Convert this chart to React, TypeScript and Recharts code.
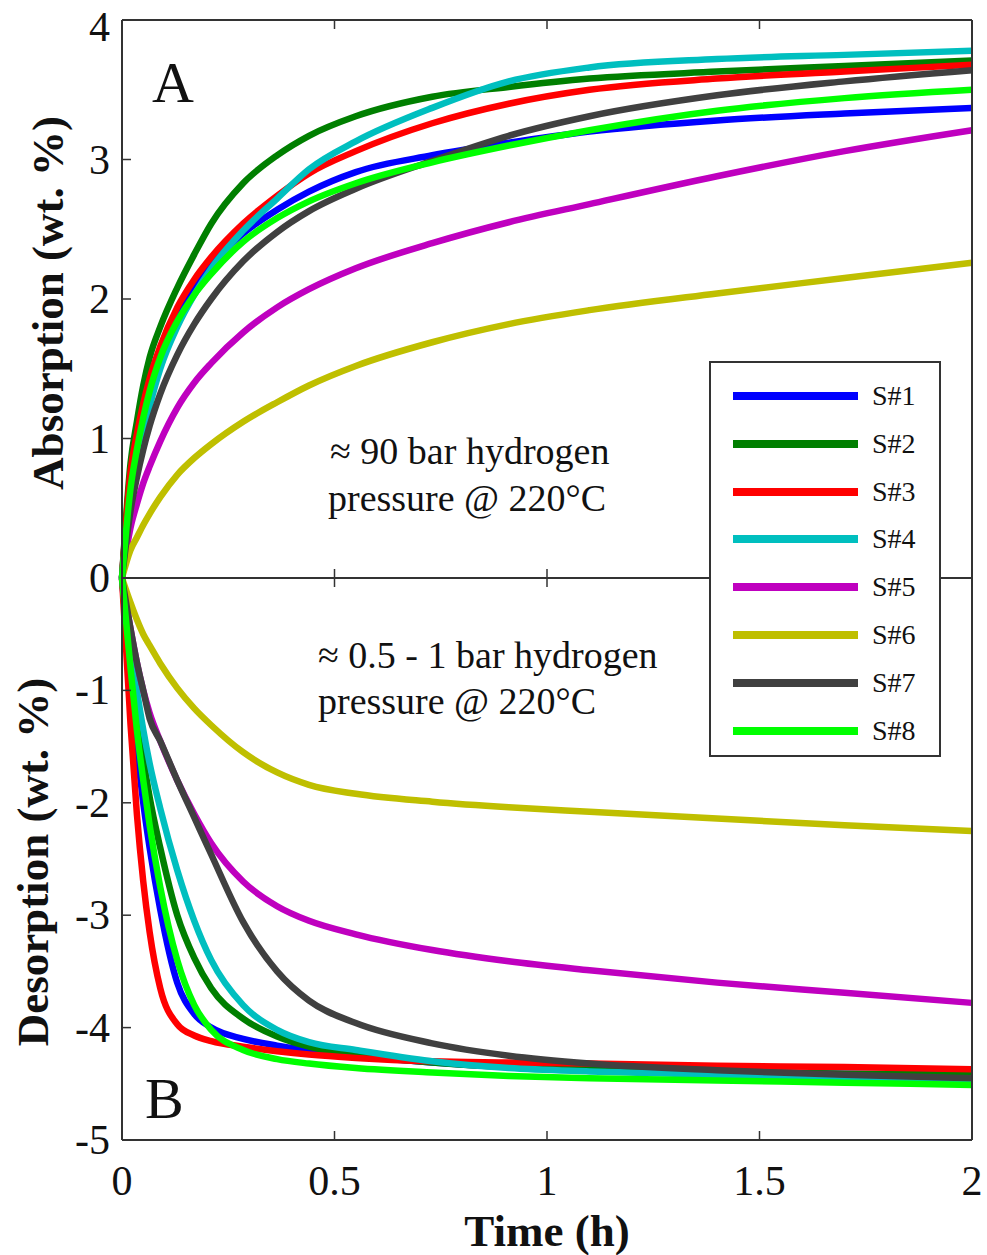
import React from 'react';
import { LineChart, Line, XAxis, YAxis, Legend } from 'recharts';

// time axis (h)
const TIME = [0, 0.02, 0.035, 0.05, 0.065, 0.09, 0.13, 0.17, 0.21, 0.285, 0.365, 0.44, 0.55, 0.73, 0.91, 1.1, 1.4, 1.7, 2.0];

// absorption, wt. % (panel A)
const ABS_S1 = [0, 0.72, 1.0, 1.22, 1.40, 1.63, 1.90, 2.10, 2.25, 2.47, 2.64, 2.77, 2.91, 3.03, 3.12, 3.20, 3.28, 3.33, 3.37];
const ABS_S2 = [0, 0.82, 1.12, 1.38, 1.58, 1.80, 2.08, 2.32, 2.54, 2.83, 3.03, 3.17, 3.31, 3.45, 3.52, 3.58, 3.63, 3.67, 3.71];
const ABS_S3 = [0, 0.76, 1.03, 1.25, 1.43, 1.66, 1.94, 2.14, 2.30, 2.54, 2.74, 2.90, 3.06, 3.26, 3.40, 3.50, 3.58, 3.63, 3.68];
const ABS_S4 = [0, 0.56, 0.82, 1.04, 1.23, 1.50, 1.80, 2.03, 2.22, 2.49, 2.72, 2.93, 3.13, 3.37, 3.56, 3.66, 3.72, 3.75, 3.78];
const ABS_S5 = [0, 0.36, 0.53, 0.68, 0.80, 0.98, 1.22, 1.40, 1.54, 1.76, 1.94, 2.07, 2.22, 2.40, 2.55, 2.68, 2.88, 3.06, 3.21];
const ABS_S6 = [0, 0.20, 0.29, 0.38, 0.46, 0.58, 0.74, 0.86, 0.96, 1.12, 1.26, 1.38, 1.52, 1.69, 1.82, 1.92, 2.04, 2.15, 2.26];
const ABS_S7 = [0, 0.48, 0.72, 0.92, 1.09, 1.32, 1.60, 1.82, 2.00, 2.27, 2.48, 2.63, 2.79, 2.99, 3.17, 3.31, 3.46, 3.56, 3.64];
const ABS_S8 = [0, 0.64, 0.92, 1.15, 1.34, 1.58, 1.84, 2.03, 2.18, 2.41, 2.58, 2.70, 2.83, 2.98, 3.10, 3.21, 3.35, 3.44, 3.50];

// desorption, wt. % (panel B)
const DES_S1 = [0, -0.9, -1.5, -2.0, -2.4, -2.95, -3.6, -3.88, -4.0, -4.1, -4.16, -4.2, -4.25, -4.31, -4.35, -4.37, -4.39, -4.41, -4.42];
const DES_S2 = [0, -0.7, -1.2, -1.6, -1.95, -2.4, -3.0, -3.38, -3.65, -3.92, -4.08, -4.17, -4.24, -4.31, -4.35, -4.37, -4.39, -4.41, -4.42];
const DES_S3 = [0, -1.3, -2.1, -2.7, -3.15, -3.65, -3.97, -4.07, -4.12, -4.17, -4.21, -4.24, -4.27, -4.30, -4.31, -4.32, -4.34, -4.35, -4.37];
const DES_S4 = [0, -0.6, -1.0, -1.35, -1.65, -2.05, -2.6, -3.05, -3.40, -3.80, -4.02, -4.13, -4.20, -4.30, -4.36, -4.39, -4.42, -4.44, -4.46];
const DES_S5 = [0, -0.45, -0.75, -1.0, -1.2, -1.45, -1.80, -2.10, -2.36, -2.70, -2.92, -3.05, -3.17, -3.31, -3.41, -3.49, -3.60, -3.69, -3.78];
const DES_S6 = [0, -0.22, -0.37, -0.50, -0.60, -0.76, -0.98, -1.16, -1.31, -1.55, -1.73, -1.84, -1.92, -1.99, -2.04, -2.08, -2.14, -2.20, -2.25];
const DES_S7 = [0, -0.45, -0.75, -1.0, -1.25, -1.45, -1.80, -2.13, -2.46, -3.06, -3.50, -3.76, -3.96, -4.14, -4.25, -4.32, -4.38, -4.42, -4.45];
const DES_S8 = [0, -0.8, -1.35, -1.8, -2.2, -2.75, -3.4, -3.8, -4.02, -4.2, -4.28, -4.32, -4.36, -4.40, -4.43, -4.45, -4.47, -4.49, -4.51];

const SERIES = ['S#1', 'S#2', 'S#3', 'S#4', 'S#5', 'S#6', 'S#7', 'S#8'];
const COLORS = ['#0000ff', '#007f00', '#ff0000', '#00bfbf', '#bf00bf', '#bfbf00', '#404040', '#00ff00'];

const X_TICKS = [0, 0.5, 1, 1.5, 2];
const ABS_TICKS = [0, 1, 2, 3, 4];
const DES_TICKS = [-5, -4, -3, -2, -1, 0];

const ABS = [ABS_S1, ABS_S2, ABS_S3, ABS_S4, ABS_S5, ABS_S6, ABS_S7, ABS_S8];
const DES = [DES_S1, DES_S2, DES_S3, DES_S4, DES_S5, DES_S6, DES_S7, DES_S8];

const toRows = (cols: number[][]) =>
  TIME.map((t, i) => {
    const row: Record<string, number> = { t };
    SERIES.forEach((s, k) => { row[s] = cols[k][i]; });
    return row;
  });

const absData = toRows(ABS);
const desData = toRows(DES);

const FONT = '"Liberation Serif", "Times New Roman", serif';
const INK = '#333333';
const TL = 9;

// inward ticks, drawn by hand so the labels can stay outside
const LeftTick = (p: any) => {
  const v = p.payload.value;
  const dy = v === 4 ? 7 : 0;
  return (
    <g>
      <line x1={p.x} y1={p.y} x2={p.x + TL} y2={p.y} stroke={INK} strokeWidth={1.5} />
      {p.hide && p.hide(v) ? null : (
        <text x={p.x - 12} y={p.y + dy} textAnchor="end" dominantBaseline="central" fontFamily={FONT} fontSize={42} fill="#111">{v}</text>
      )}
    </g>
  );
};
const RightTick = (p: any) => <line x1={p.x} y1={p.y} x2={p.x - TL} y2={p.y} stroke={INK} strokeWidth={1.5} />;
const TopTick = (p: any) => <line x1={p.x} y1={p.y} x2={p.x} y2={p.y + TL} stroke={INK} strokeWidth={1.5} />;
const BottomTick = (p: any) => (
  <g>
    <line x1={p.x} y1={p.y} x2={p.x} y2={p.y - TL} stroke={INK} strokeWidth={1.5} />
    {p.labels ? (
      <text x={p.x} y={p.y + 55} textAnchor="middle" fontFamily={FONT} fontSize={42} fill="#111">{p.payload.value}</text>
    ) : null}
  </g>
);

const LegendBox = (props: any) => {
  const items = props.payload && props.payload.length ? props.payload : SERIES.map((s, i) => ({ value: s, color: COLORS[i] }));
  return (
    <div style={{ width: 232, height: 396, boxSizing: 'border-box', border: `2px solid ${INK}`, background: '#fff', position: 'relative' }}>
      {items.map((it: any, i: number) => (
        <div key={it.value} style={{ position: 'absolute', left: 22, top: 33 + i * 47.8 - 16, height: 32, display: 'flex', alignItems: 'center' }}>
          <div style={{ width: 125, height: 8, background: it.color }} />
          <span style={{ marginLeft: 14, fontFamily: FONT, fontSize: 28, color: '#111', lineHeight: '32px' }}>{it.value}</span>
        </div>
      ))}
    </div>
  );
};

const axisLine = { stroke: INK, strokeWidth: 2 };

export default function App() {
  return (
    <div style={{ position: 'absolute', left: 0, top: 0, width: 987, height: 1255, background: '#fff' }}>
      <div style={{ position: 'absolute', left: 0, top: 0 }}>
        <LineChart width={987} height={600} data={absData} margin={{ top: 19, right: 14, bottom: 21, left: 0 }}>
          <XAxis dataKey="t" type="number" domain={[0, 2]} ticks={X_TICKS} interval={0} height={1} tickSize={0} tickMargin={0}
            tickLine={false} axisLine={axisLine} tick={(p: any) => <BottomTick {...p} labels={false} />} />
          <XAxis xAxisId="top" orientation="top" dataKey="t" type="number" domain={[0, 2]} ticks={X_TICKS} interval={0} height={1}
            tickSize={0} tickMargin={0} tickLine={false} axisLine={axisLine} tick={(p: any) => <TopTick {...p} />} />
          <YAxis type="number" domain={[0, 4]} ticks={ABS_TICKS} interval={0} width={122} tickSize={0} tickMargin={0}
            tickLine={false} axisLine={axisLine} tick={(p: any) => <LeftTick {...p} />} />
          <YAxis yAxisId="r" orientation="right" type="number" domain={[0, 4]} ticks={ABS_TICKS} interval={0} width={1}
            tickSize={0} tickMargin={0} tickLine={false} axisLine={axisLine} tick={(p: any) => <RightTick {...p} />} />
          <Legend layout="vertical" align="center" verticalAlign="middle" content={LegendBox}
            wrapperStyle={{ left: 709, top: 361, width: 232, height: 396, zIndex: 5 }} />
          {SERIES.map((s, i) => (
            <Line key={s} dataKey={s} name={s} type="monotone" stroke={COLORS[i]} strokeWidth={6.5} dot={false} isAnimationActive={false} />
          ))}
        </LineChart>
      </div>
      <div style={{ position: 'absolute', left: 0, top: 560 }}>
        <LineChart width={987} height={695} data={desData} margin={{ top: 17, right: 14, bottom: 114, left: 0 }}>
          <XAxis dataKey="t" type="number" domain={[0, 2]} ticks={X_TICKS} interval={0} height={1} tickSize={0} tickMargin={0}
            tickLine={false} axisLine={axisLine} tick={(p: any) => <BottomTick {...p} labels={true} />} />
          <XAxis xAxisId="top" orientation="top" dataKey="t" type="number" domain={[0, 2]} ticks={X_TICKS} interval={0} height={1}
            tickSize={0} tickMargin={0} tickLine={false} axisLine={axisLine} tick={(p: any) => <TopTick {...p} />} />
          <YAxis type="number" domain={[-5, 0]} ticks={DES_TICKS} interval={0} width={122} tickSize={0} tickMargin={0}
            tickLine={false} axisLine={axisLine} tick={(p: any) => <LeftTick {...p} hide={(v: number) => v === 0} />} />
          <YAxis yAxisId="r" orientation="right" type="number" domain={[-5, 0]} ticks={DES_TICKS} interval={0} width={1}
            tickSize={0} tickMargin={0} tickLine={false} axisLine={axisLine} tick={(p: any) => <RightTick {...p} />} />
          {SERIES.map((s, i) => (
            <Line key={s} dataKey={s} name={s} type="monotone" stroke={COLORS[i]} strokeWidth={6.5} dot={false} isAnimationActive={false} />
          ))}
        </LineChart>
      </div>
      <svg width={987} height={1255} style={{ position: 'absolute', left: 0, top: 0, pointerEvents: 'none' }} fontFamily={FONT} fill="#111">
        <text x={152} y={102} fontSize={58}>A</text>
        <text x={145} y={1118} fontSize={58}>B</text>
        <text x={330} y={464} fontSize={38}>≈ 90 bar hydrogen</text>
        <text x={328} y={511} fontSize={38}>pressure @ 220°C</text>
        <text x={318} y={668} fontSize={38}>≈ 0.5 - 1 bar hydrogen</text>
        <text x={318} y={714} fontSize={38}>pressure @ 220°C</text>
        <text transform="translate(63,303) rotate(-90)" textAnchor="middle" fontSize={45} fontWeight="bold">Absorption (wt. %)</text>
        <text transform="translate(48,862) rotate(-90)" textAnchor="middle" fontSize={45} fontWeight="bold">Desorption (wt. %)</text>
        <text x={547} y={1246} textAnchor="middle" fontSize={45} fontWeight="bold">Time (h)</text>
      </svg>
    </div>
  );
}
